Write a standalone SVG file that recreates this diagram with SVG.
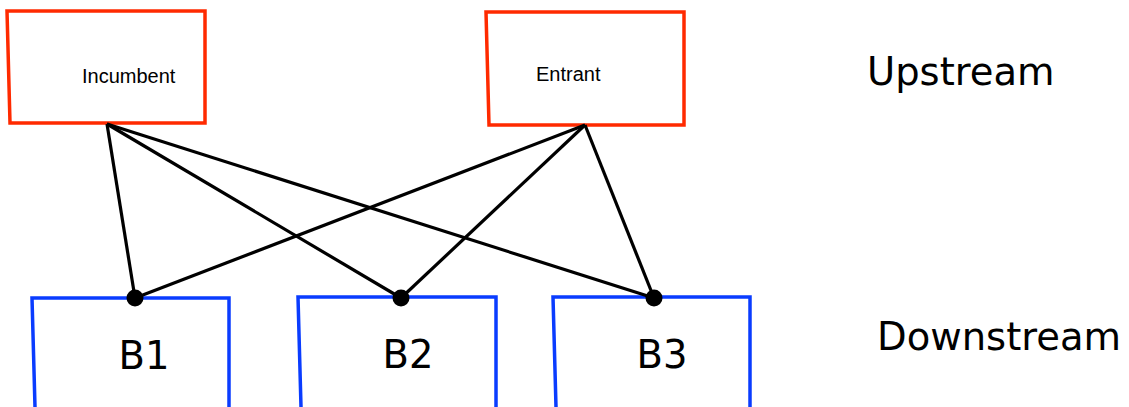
<svg xmlns="http://www.w3.org/2000/svg" width="1129" height="407" viewBox="0 0 1129 407">
<style>
.up{fill:#fff;stroke:#ff2a00;stroke-width:3.5;stroke-linejoin:miter}
.down{fill:none;stroke:#0a3cff;stroke-width:3.5}
.edge{stroke:#000;stroke-width:3.2;fill:none}
.small{font-family:"Liberation Sans",Arial,sans-serif;font-size:20px;fill:#000}
.big{font-family:"DejaVu Sans",sans-serif;font-size:38.5px;fill:#000}
</style>
<rect width="1129" height="407" fill="#fff"/>
<g id="incumbent">
<path class="up" d="M7,11 L205,11 L205,123 L10,123 Z"/>
<text class="small" x="82" y="83">Incumbent</text>
</g>
<g id="entrant">
<path class="up" d="M486,12 L684,12 L684,125 L489,125 Z"/>
<text class="small" x="536" y="81">Entrant</text>
</g>
<g id="b1">
<path class="down" d="M35,407 L32,298 L229,298 L229,407"/>
<text class="big" x="144" y="369" text-anchor="middle">B1</text>
</g>
<g id="b2">
<path class="down" d="M301,407 L298,297 L496,297 L496,407"/>
<text class="big" x="408" y="368" text-anchor="middle">B2</text>
</g>
<g id="b3">
<path class="down" d="M556,407 L553,297 L750,297 L750,407"/>
<text class="big" x="662" y="368" text-anchor="middle">B3</text>
</g>
<g id="labels">
<text class="big" x="867" y="85">Upstream</text>
<text class="big" x="877" y="350">Downstream</text>
</g>
<g id="connectors">
<line class="edge" x1="107" y1="124" x2="135" y2="298"/>
<line class="edge" x1="107" y1="124" x2="401" y2="298"/>
<line class="edge" x1="107" y1="124" x2="654" y2="298"/>
<line class="edge" x1="585" y1="125" x2="135" y2="298"/>
<line class="edge" x1="585" y1="125" x2="401" y2="298"/>
<line class="edge" x1="585" y1="125" x2="654" y2="298"/>
<circle cx="135" cy="298" r="8.5"/>
<circle cx="401" cy="298" r="8.5"/>
<circle cx="654" cy="298" r="8.5"/>
</g>
</svg>
